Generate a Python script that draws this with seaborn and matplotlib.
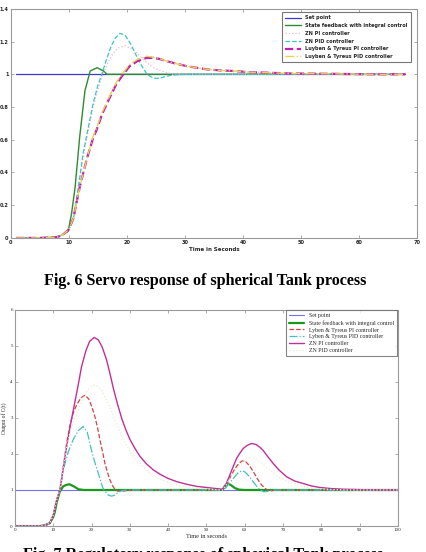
import numpy as np
import matplotlib
matplotlib.use("Agg")
import matplotlib.pyplot as plt
import seaborn as sns

# ---- Fig. 6 servo response ----
sp_t = [1, 68]
sp_y = [1, 1]

sf_t = [1, 5, 8, 9, 9.9, 10.5, 11.1, 11.9, 12.8, 13.7, 14.9, 16, 16.6, 20, 30, 40, 50, 60, 68]
sf_y = [0, 0, 0.005, 0.02, 0.04, 0.15, 0.31, 0.62, 0.9, 1.02, 1.04, 1.02, 1.0, 1.0, 1.0, 1.0, 1.0, 1.0, 1.0]

znpi_t = [1, 5, 8, 9, 10, 10.8, 11.7, 12.5, 13.4, 14.2, 15, 15.8, 16.6, 17.5, 18.5, 19.7, 20.6, 21.5, 22.3, 23.5, 24.6, 26, 28, 30, 40, 68]
znpi_y = [0, 0, 0.005, 0.02, 0.05, 0.11, 0.3, 0.5, 0.66, 0.8, 0.9, 0.99, 1.06, 1.12, 1.16, 1.175, 1.16, 1.14, 1.11, 1.07, 1.04, 1.02, 1.0, 1.0, 1, 1]

znpid_t = [1, 5, 8, 9, 10, 10.8, 11.7, 12.5, 13.4, 14.2, 15, 15.7, 16.5, 17.3, 18, 18.8, 19.7, 20.6, 21.7, 22.6, 23.5, 24.6, 25.6, 26.6, 27.8, 30, 40, 50, 60, 68]
znpid_y = [0, 0, 0.005, 0.02, 0.05, 0.11, 0.32, 0.52, 0.68, 0.82, 0.93, 1.0, 1.09, 1.17, 1.22, 1.25, 1.24, 1.19, 1.11, 1.05, 1.0, 0.976, 0.975, 0.985, 0.995, 1.0, 1, 1, 1, 1]

lypi_t = [1, 5, 8, 9, 10, 10.8, 11.9, 13.1, 14.2, 14.8, 15.8, 17.1, 18.2, 19.4, 20.5, 21.8, 23.4, 24.5, 25.5, 26.9, 28.5, 30.3, 32, 33.8, 36, 38.4, 41, 44, 48, 55, 62, 68]
lypi_y = [0, 0, 0.005, 0.02, 0.05, 0.12, 0.31, 0.48, 0.61, 0.66, 0.76, 0.86, 0.94, 1.0, 1.05, 1.08, 1.10, 1.10, 1.095, 1.08, 1.065, 1.05, 1.04, 1.03, 1.024, 1.02, 1.013, 1.01, 1.005, 1.003, 1.0, 1.0]

lypid_t = [1, 5, 8, 9, 10, 10.8, 11.9, 13.1, 14.2, 14.8, 15.8, 17.1, 18.2, 19.4, 20.5, 21.8, 23.4, 24.5, 25.5, 26.9, 28.5, 30.3, 32, 33.8, 36, 38.4, 41, 44, 48, 55, 62, 68]
lypid_y = [0, 0, 0.005, 0.02, 0.05, 0.12, 0.31, 0.48, 0.62, 0.67, 0.77, 0.87, 0.95, 1.01, 1.06, 1.09, 1.11, 1.105, 1.097, 1.08, 1.065, 1.05, 1.04, 1.03, 1.024, 1.02, 1.013, 1.01, 1.005, 1.003, 1.0, 1.0]

# ---- Fig. 7 regulatory response ----
sp2_t = [0, 100]
sp2_y = [1, 1]

sf2_t = [0, 6.5, 7.8, 9.1, 10, 10.4, 10.9, 11.7, 12.6, 13.4, 14.2, 15.4, 16.6, 18, 20, 30, 40, 50, 54.2, 54.9, 55.7, 56.6, 57.5, 58.5, 60, 70, 80, 90, 100]
sf2_y = [0, 0, 0.02, 0.08, 0.25, 0.38, 0.65, 0.95, 1.1, 1.14, 1.16, 1.1, 1.02, 1.0, 1.0, 1, 1, 1, 1.0, 1.12, 1.18, 1.12, 1.05, 1.01, 1.0, 1, 1, 1, 1]

lypi2_t = [0, 6.5, 7.8, 9.1, 10, 10.9, 11.75, 12.6, 13.5, 14.4, 15.2, 16.2, 17.2, 18.3, 19.3, 20.1, 20.9, 21.6, 22.2, 22.9, 23.5, 24.2, 24.8, 25.5, 26.1, 26.8, 27.5, 29, 32, 40, 50,
           54.2, 55, 56.1, 57.4, 58.5, 59.4, 60.3, 61.2, 62.2, 63.2, 64.2, 65.2, 66.1, 67, 68.5, 80, 100]
lypi2_y = [0, 0, 0.02, 0.08, 0.3, 0.72, 1.0, 1.6, 2.3, 2.8, 3.13, 3.38, 3.55, 3.63, 3.52, 3.3, 3.03, 2.72, 2.39, 2.05, 1.74, 1.48, 1.28, 1.12, 1.02, 0.97, 0.96, 0.98, 1.0, 1, 1,
           1.0, 1.1, 1.33, 1.58, 1.74, 1.81, 1.78, 1.68, 1.52, 1.33, 1.17, 1.05, 0.99, 0.98, 1.0, 1, 1]

lypid2_t = [0, 6.5, 7.8, 9.1, 10, 10.9, 11.75, 12.6, 13.9, 15.2, 16.5, 17.8, 18.9, 20, 21, 21.8, 22.4, 23, 23.7, 24.4, 25.2, 25.9, 26.6, 27.4, 28.2, 30, 40, 50,
            54.2, 55, 56.1, 57.4, 58.3, 59.2, 60.1, 61, 62, 63, 64, 65, 66, 67, 68, 80, 100]
lypid2_y = [0, 0, 0.02, 0.08, 0.3, 0.72, 1.0, 1.55, 2.05, 2.39, 2.64, 2.76, 2.6, 2.1, 1.72, 1.46, 1.24, 1.05, 0.94, 0.86, 0.83, 0.85, 0.9, 0.96, 0.99, 1.0, 1, 1,
            1.0, 1.05, 1.2, 1.37, 1.48, 1.53, 1.5, 1.4, 1.26, 1.12, 1.0, 0.95, 0.96, 0.99, 1.0, 1, 1]

znpi2_t = [0, 6.5, 7.8, 9.1, 10, 10.9, 11.75, 12.6, 13.5, 14.4, 15.5, 16.5, 17.4, 18.5, 19.5, 20.7, 21.8, 22.8, 23.9, 24.8, 25.7, 26.8, 27.9, 29, 30, 31.3, 32.6, 34.3, 36.1, 38, 40, 42.3, 44.8, 47.5, 50, 52.5,
           54.2, 55.2, 56.1, 57, 57.9, 58.8, 59.6, 60.7, 61.8, 63, 64, 64.8, 66, 67.4, 69, 70.9, 73, 75.3, 77.5, 79.6, 82.5, 85.7, 90, 95, 100]
znpi2_y = [0, 0, 0.02, 0.08, 0.3, 0.72, 1.0, 1.6, 2.2, 2.75, 3.35, 3.9, 4.42, 4.85, 5.12, 5.23, 5.16, 4.96, 4.62, 4.24, 3.82, 3.38, 2.98, 2.66, 2.41, 2.16, 1.94, 1.73, 1.56, 1.43, 1.32, 1.23, 1.16, 1.1, 1.07, 1.04,
           1.02, 1.18, 1.41, 1.65, 1.88, 2.03, 2.15, 2.24, 2.29, 2.26, 2.18, 2.1, 1.93, 1.74, 1.55, 1.37, 1.25, 1.18, 1.11, 1.07, 1.04, 1.02, 1.01, 1.0, 1.0]

znpid2_t = [0, 6.5, 7.8, 9.1, 10, 10.9, 11.75, 12.6, 13.5, 14.4, 15.5, 16.8, 18, 19.2, 20.2, 20.9, 21.8, 23, 24.8, 26.5, 28.3, 30.5, 32.6, 34.3, 36.1, 38.5, 41, 44, 47.5, 51,
            54.2, 55.2, 56.5, 58, 59.5, 60.7, 61.8, 63, 64.5, 66, 67.5, 69.5, 72, 75, 78.5, 83, 90, 100]
znpid2_y = [0, 0, 0.02, 0.08, 0.3, 0.72, 1.0, 1.6, 2.2, 2.6, 2.95, 3.3, 3.6, 3.8, 3.89, 3.91, 3.87, 3.7, 3.31, 2.85, 2.39, 2.0, 1.74, 1.55, 1.4, 1.28, 1.18, 1.1, 1.05, 1.02,
            1.0, 1.15, 1.38, 1.6, 1.77, 1.87, 1.9, 1.86, 1.74, 1.6, 1.47, 1.32, 1.2, 1.1, 1.04, 1.01, 1.0, 1.0]

sns.set_style('ticks')

fig = plt.figure(figsize=(4.26, 5.52), dpi=100)
ax1 = fig.add_axes([0.025, 0.569, 0.954, 0.415])
ax2 = fig.add_axes([0.035, 0.047, 0.899, 0.392])

# top plot
sns.lineplot(x=sp_t, y=sp_y, ax=ax1, color='#3a3ad0', lw=0.9, label='Set point')
sns.lineplot(x=sf_t, y=sf_y, ax=ax1, color='#2f8a2f', lw=1.0, label='State feedback with integral control')
sns.lineplot(x=znpi_t, y=znpi_y, ax=ax1, color='#f2b8c8', lw=0.9, linestyle=':', label='ZN PI controller')
sns.lineplot(x=znpid_t, y=znpid_y, ax=ax1, color='#3cc4c4', lw=0.9, linestyle='--', label='ZN PID controller')
sns.lineplot(x=lypi_t, y=lypi_y, ax=ax1, color='#c020b8', lw=1.6, linestyle='--', label='Luyben & Tyreus PI controller')
sns.lineplot(x=lypid_t, y=lypid_y, ax=ax1, color='#e8d050', lw=1.0, linestyle='-.', label='Luyben & Tyreus PID controller')

ax1.set_xlim(0, 70)
ax1.set_ylim(0, 1.4)
ax1.set_xticks(np.arange(0, 71, 10))
ax1.set_yticks([0, 0.2, 0.4, 0.6, 0.8, 1, 1.2, 1.4])
ax1.set_yticklabels(['0', '0.2', '0.4', '0.6', '0.8', '1', '1.2', '1.4'])
ax1.set_xlabel('Time in Seconds', fontsize=4, fontweight='bold', labelpad=1.5)
ax1.set_ylabel('')
for lab in ax1.get_xticklabels() + ax1.get_yticklabels():
    lab.set_fontweight('bold')
leg1 = ax1.legend(loc='upper right', bbox_to_anchor=(0.985, 0.985), borderaxespad=0,
                  prop={'weight': 'bold', 'size': 3.6}, handlelength=3.2,
                  frameon=True, fancybox=False, edgecolor='#555555', labelspacing=0.55,
                  borderpad=0.6)
leg1.get_frame().set_linewidth(0.8)

# bottom plot
sns.lineplot(x=sp2_t, y=sp2_y, ax=ax2, color='#7070f0', lw=0.8, label='Set point')
sns.lineplot(x=sf2_t, y=sf2_y, ax=ax2, color='#1a9a1a', lw=1.6, label='State feedback with integral control')
sns.lineplot(x=lypi2_t, y=lypi2_y, ax=ax2, color='#d04545', lw=0.9, linestyle='--', label='Lyben & Tyreus PI controller')
sns.lineplot(x=lypid2_t, y=lypid2_y, ax=ax2, color='#45c0c0', lw=0.9, linestyle='-.', label='Lyben & Tyreus PID controller')
sns.lineplot(x=znpi2_t, y=znpi2_y, ax=ax2, color='#c03098', lw=1.0, label='ZN PI controller')
sns.lineplot(x=znpid2_t, y=znpid2_y, ax=ax2, color='#ecedcc', lw=0.9, linestyle=':', label='ZN PID controller')

ax2.set_xlim(0, 100)
ax2.set_ylim(0, 6)
ax2.set_xticks(np.arange(0, 101, 10))
ax2.set_yticks(np.arange(0, 7, 1))
ax2.set_xlabel('Time in seconds', fontsize=4.5, family='Liberation Serif', labelpad=1.5)
ax2.set_ylabel('Output of C(t)', fontsize=4, family='Liberation Serif', labelpad=2)
for lab in ax2.get_xticklabels() + ax2.get_yticklabels():
    lab.set_family('Liberation Serif')
leg2 = ax2.legend(loc='upper right', bbox_to_anchor=(0.997, 0.997), borderaxespad=0,
                  prop={'family': 'Liberation Serif', 'size': 4.2}, handlelength=2.6,
                  frameon=True, fancybox=False, edgecolor='#666666', labelspacing=0.3,
                  borderpad=0.5)
leg2.get_frame().set_linewidth(0.8)

for ax in (ax1, ax2):
    for s in ax.spines.values():
        s.set_visible(True)
        s.set_color('#9a9a9a')
        s.set_linewidth(0.8)
    ax.tick_params(direction='in', top=True, right=True, length=2.5, width=0.5,
                   color='#888888', labelsize=3.6, pad=1.5)

fig.text(0.482, 1 - 281 / 552, 'Fig. 6 Servo response of spherical Tank process',
         ha='center', va='center', fontsize=11.6, fontweight='bold', family='Liberation Serif',
         color='black')
# the reference crops this caption at the bottom edge
fig.text(23 / 426, 1 - 547 / 552, 'Fig. 7 Regulatory response of spherical Tank process',
         ha='left', va='top', fontsize=11.6, fontweight='bold', family='Liberation Serif',
         color='black')

fig.savefig('out.png', dpi=100)
